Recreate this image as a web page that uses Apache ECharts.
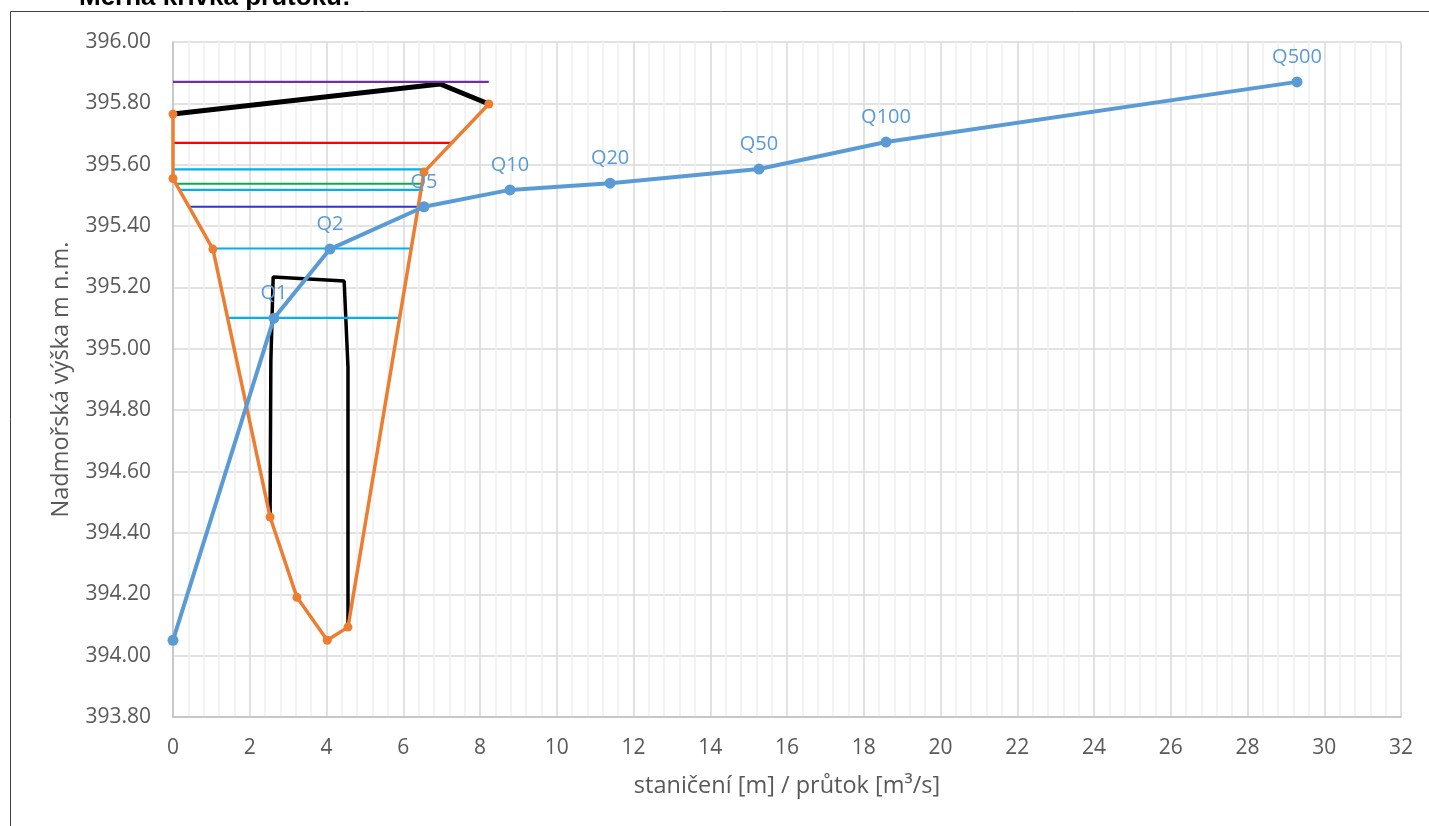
<!DOCTYPE html>
<html>
<head>
<meta charset="utf-8">
<script src="https://cdn.jsdelivr.net/npm/echarts@6/dist/echarts.min.js"></script>
<style>html,body{margin:0;padding:0;background:#fff}#c{width:1429px;height:826px}</style>
</head>
<body>
<div id="c"></div>
<script>
// ---- data ----
var qNames = ['', 'Q1', 'Q2', 'Q5', 'Q10', 'Q20', 'Q50', 'Q100', 'Q500'];
var qFlow = [0, 2.63, 4.09, 6.54, 8.78, 11.39, 15.27, 18.58, 29.29];
var qLevel = [394.05, 395.10, 395.325, 395.463, 395.518, 395.54, 395.586, 395.674, 395.87];

var terrainX = [0, 0, 1.04, 2.53, 3.23, 4.02, 4.56, 6.54, 8.23];
var terrainY = [395.765, 395.555, 395.325, 394.452, 394.19, 394.05, 394.093, 395.576, 395.798];

var deckX = [0, 6.96, 8.23];
var deckY = [395.765, 395.863, 395.798];

var pierX = [2.53, 2.55, 2.61, 4.46, 4.56, 4.56];
var pierY = [394.452, 394.96, 395.234, 395.221, 394.94, 394.093];

var levelNames = ['Q500', 'Q100', 'Q50', 'Q20', 'Q10', 'Q5', 'Q2', 'Q1'];
var levelY  = [395.87, 395.671, 395.585, 395.538, 395.518, 395.463, 395.327, 395.101];
var levelX0 = [0, 0, 0, 0.06, 0.18, 0.42, 1.01, 1.43];
var levelX1 = [8.23, 7.30, 6.51, 6.50, 6.50, 6.41, 6.25, 5.93];

var yTicks = [393.8, 396.0];
var xTicks = [0, 32];

// ---- styles ----
var levelColors = ['#7030a0', '#ff0000', '#00b0f0', '#00b050', '#00b0f0', '#3333cc', '#00b0f0', '#00b0f0'];
var FONT = 'Open Sans';

function pairs(xs, ys) { return xs.map(function (x, i) { return [x, ys[i]]; }); }

var series = [];
series.push({
  name: 'mostovka', type: 'line', data: pairs(deckX, deckY), showSymbol: false,
  lineStyle: { color: '#000', width: 5 }, z: 3, silent: true
});
series.push({
  name: 'pilíř', type: 'line', data: pairs(pierX, pierY), showSymbol: false,
  lineStyle: { color: '#000', width: 3.5 }, z: 3, silent: true
});
levelNames.forEach(function (n, i) {
  series.push({
    name: 'hladina ' + n, type: 'line',
    data: [[levelX0[i], levelY[i]], [levelX1[i], levelY[i]]],
    showSymbol: false, lineStyle: { color: levelColors[i], width: 2.2 }, z: 4, silent: true
  });
});
series.push({
  name: 'terén', type: 'line', data: pairs(terrainX, terrainY),
  symbol: 'circle', symbolSize: 9,
  itemStyle: { color: '#ed7d31' }, lineStyle: { color: '#ed7d31', width: 3.5 }, z: 5, silent: true
});
series.push({
  name: 'Q', type: 'line',
  data: qFlow.map(function (x, i) { return { value: [x, qLevel[i]], name: qNames[i] }; }),
  symbol: 'circle', symbolSize: 11,
  itemStyle: { color: '#5b9bd5' }, lineStyle: { color: '#5b9bd5', width: 4 }, z: 6, silent: true,
  label: {
    show: true, position: 'top', distance: 9, color: '#5b9bd5',
    fontFamily: FONT, fontSize: 20,
    formatter: function (p) { return p.name; }
  }
});

var chart = echarts.init(document.getElementById('c'), null, { renderer: 'canvas' });
chart.setOption({
  animation: false,
  backgroundColor: '#fff',
  graphic: [
    { type: 'rect', shape: { x: 10.5, y: 11.5, width: 1500, height: 900 },
      style: { fill: 'none', stroke: '#404040', lineWidth: 1 }, z: 0, silent: true },
    { type: 'text', x: 79, y: 11,
      style: { text: 'Měrná křivka průtoku:', font: 'bold 26px "Liberation Sans", Arial', fill: '#000',
               textAlign: 'left', textVerticalAlign: 'bottom' }, silent: true }
  ],
  grid: { left: 173, right: 28, top: 42, bottom: 109, containLabel: false },
  xAxis: {
    type: 'value', min: xTicks[0], max: xTicks[1], interval: 2,
    axisLine: { show: true, onZero: false, lineStyle: { color: '#bfbfbf', width: 1.5 } },
    axisTick: { show: false },
    axisLabel: { color: '#595959', fontFamily: FONT, fontSize: 21, margin: 21 },
    splitLine: { show: true, lineStyle: { color: '#d9d9d9', width: 1.5 } },
    minorTick: { show: false, splitNumber: 5 },
    minorSplitLine: { show: true, lineStyle: { color: '#efefef', width: 1.5 } },
    name: 'staničení [m] / průtok [m³/s]', nameLocation: 'middle', nameGap: 57,
    nameTextStyle: { color: '#595959', fontFamily: FONT, fontSize: 23.5 }
  },
  yAxis: {
    type: 'value', min: yTicks[0], max: yTicks[1], interval: 0.2,
    axisLine: { show: true, onZero: false, lineStyle: { color: '#bfbfbf', width: 1.5 } },
    axisTick: { show: false },
    axisLabel: { color: '#595959', fontFamily: FONT, fontSize: 21, margin: 22,
                 formatter: function (v) { return v.toFixed(2); } },
    splitLine: { show: true, lineStyle: { color: '#d9d9d9', width: 1.5 } },
    name: 'Nadmořská výška m n.m.', nameLocation: 'middle', nameGap: 100, nameRotate: 90,
    nameTextStyle: { color: '#595959', fontFamily: FONT, fontSize: 23.5 }
  },
  series: series
});
</script>
</body>
</html>
